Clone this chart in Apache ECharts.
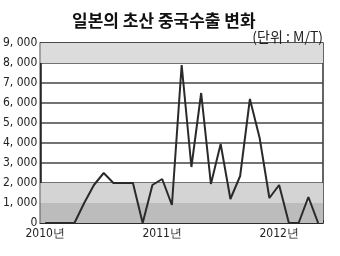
<!DOCTYPE html>
<html><head><meta charset="utf-8">
<script src="https://cdn.jsdelivr.net/npm/echarts@6/dist/echarts.min.js"></script>
<style>html,body{margin:0;padding:0;background:#fff}#c{width:340px;height:256px}</style>
</head><body><div id="c"></div>
<script>
// Monthly exports, Jan 2010 .. May 2012 (index 0 = 2010-01)
const months = [0,1,2,3,4,5,6,7,8,9,10,11,12,13,14,15,16,17,18,19,20,21,22,23,24,25,26,27,28];
const values = [0,0,0,0,1000,1900,2500,2000,2000,2000,0,1900,2200,900,7900,2800,6500,1950,3950,1200,2350,6200,4250,1250,1900,0,0,1300,0];
const yearLabels = {0:'2010년', 12:'2011년', 24:'2012년'};
const title = '일본의 초산 중국수출 변화';
const unit = '(단위 : M/T)';

const chart = echarts.init(document.getElementById('c'), null, {renderer:'canvas'});
chart.setOption({
  animation:false,
  backgroundColor:'#fff',
  title:[
    {text:title, left:67, top:7, textStyle:{fontFamily:'Noto Sans CJK KR', fontSize:17, fontWeight:'bold', color:'#111'}},
    {text:unit, right:12, top:25, textStyle:{fontFamily:'Noto Sans CJK KR', fontSize:14, fontWeight:'normal', color:'#222'}}
  ],
  grid:{left:36, right:17, top:43, bottom:33, show:true, borderColor:'#333', borderWidth:1.5, backgroundColor:'transparent'},
  xAxis:{
    type:'value', min:-0.5, max:28.5, interval:0.5,
    axisLine:{show:true, onZero:false, lineStyle:{color:'#222', width:1.5}},
    axisTick:{show:true, inside:true, length:3, lineStyle:{color:'#333'}},
    splitLine:{show:false},
    axisLabel:{
      margin:5, color:'#222', fontFamily:'DejaVu Sans Condensed', fontSize:12,
      formatter:v=>yearLabels[v]!==undefined?yearLabels[v]:''
    }
  },
  yAxis:{
    type:'value', min:0, max:9000, interval:1000,
    axisLine:{show:true, onZero:false, lineStyle:{color:'#222', width:1.5}},
    axisTick:{show:false},
    splitLine:{show:true, lineStyle:{color:'#444', width:1.5}},
    axisLabel:{
      margin:3, color:'#222', fontFamily:'DejaVu Sans Condensed', fontSize:12,
      formatter:v=>v===0?'0':(Math.floor(v/1000)+', '+String(v%1000).padStart(3,'0'))
    }
  },
  series:[{
    type:'line',
    data:months.map((m,i)=>[m,values[i]]),
    symbol:'none',
    lineStyle:{color:'#2a2a2a', width:2},
    z:5,
    markArea:{
      silent:true,
      data:[
        [{yAxis:0, itemStyle:{color:'#bcbcbc'}},{yAxis:1000}],
        [{yAxis:1000, itemStyle:{color:'#d4d4d4'}},{yAxis:2000}],
        [{yAxis:8000, itemStyle:{color:'#dcdcdc'}},{yAxis:9000}]
      ]
    }
  }]
});
</script></body></html>
